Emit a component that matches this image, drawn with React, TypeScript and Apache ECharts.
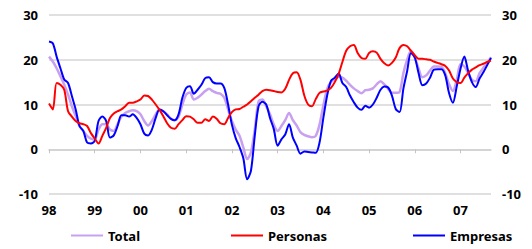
import React, { useEffect, useRef } from "react";
import * as echarts from "echarts";

const yearLabels = ["98", "99", "00", "01", "02", "03", "04", "05", "06", "07"];

// monthly, Jan 1998 .. Sep 2007
const total = [
  20.7, 19.6, 18.1, 16.3, 14.4, 12.2, 9.6, 7.4, 5.2, 4.1, 3.0, 2.4,
  2.2, 4.4, 5.6, 5.6, 4.4, 4.1, 5.6, 7.3, 8.1, 8.5, 8.7, 8.5,
  7.8, 6.3, 5.3, 6.3, 7.8, 8.9, 8.5, 7.8, 6.8, 6.5, 7.3, 10.0,
  12.2, 12.7, 11.1, 11.5, 12.2, 13.0, 13.5, 13.0, 12.6, 12.4, 11.5, 8.9,
  6.3, 4.4, 3.0, 0.4, -2.2, -0.7, 4.4, 10.7, 11.1, 9.6, 7.8, 5.5,
  4.1, 5.2, 6.5, 8.1, 6.5, 5.3, 3.8, 3.2, 2.9, 2.7, 3.0, 5.5,
  9.8, 13.5, 15.0, 15.6, 16.2, 16.0, 15.3, 14.4, 13.6, 13.0, 12.5, 13.2,
  13.3, 13.6, 14.5, 15.2, 14.5, 13.5, 12.6, 12.6, 12.8, 17.0, 20.0, 22.0,
  20.5, 18.0, 16.1, 16.5, 17.6, 18.5, 18.5, 18.4, 17.0, 14.5, 13.0, 15.5,
  19.0, 18.5, 17.0, 15.5, 15.2, 17.0, 18.2, 19.3, 20.6,
];

const personas = [
  10.2, 8.9, 14.8, 14.4, 13.3, 8.5, 7.3, 6.3, 5.8, 5.6, 5.2, 3.6,
  2.4, 1.3, 3.0, 4.8, 7.0, 8.0, 8.5, 8.9, 9.6, 10.4, 10.4, 10.7,
  11.1, 12.0, 11.9, 11.1, 10.0, 8.8, 7.4, 5.8, 4.8, 4.6, 5.6, 6.5,
  7.4, 7.3, 6.7, 5.9, 5.9, 6.7, 6.3, 7.3, 6.8, 5.8, 5.6, 7.0,
  8.3, 8.9, 9.0, 9.5, 10.0, 10.7, 11.5, 12.2, 13.0, 13.3, 13.2, 13.0,
  12.8, 12.7, 13.5, 15.5, 17.0, 17.2, 15.5, 12.0, 10.0, 9.6, 11.2, 12.6,
  12.9, 13.1, 13.7, 15.0, 16.8, 19.5, 22.0, 23.0, 23.3, 21.5, 20.4, 20.2,
  21.5, 21.9, 21.6, 20.2, 19.2, 18.7, 19.3, 20.5, 22.6, 23.3, 23.0, 22.0,
  21.0, 20.2, 20.2, 20.1, 20.0, 19.6, 19.3, 19.0, 18.6, 17.6, 15.8, 15.0,
  14.8, 16.0, 17.0, 17.8, 18.3, 18.8, 19.1, 19.5, 19.8,
];

const empresas = [
  24.1, 23.7, 20.7, 18.1, 15.6, 14.8, 11.9, 8.9, 5.2, 4.1, 1.5, 1.3,
  1.9, 6.3, 7.3, 6.3, 2.6, 3.1, 5.2, 7.6, 7.6, 7.3, 7.8, 7.0,
  5.6, 3.5, 3.1, 4.4, 7.0, 8.9, 8.5, 7.6, 6.8, 6.5, 7.8, 11.5,
  13.7, 14.1, 12.4, 13.3, 14.4, 15.9, 16.1, 15.0, 14.7, 14.7, 13.7, 10.0,
  5.5, 2.5, 0.5, -2.0, -6.7, -4.8, 3.0, 9.6, 10.6, 10.0, 7.0, 4.5,
  0.8, 2.2, 3.3, 5.6, 2.6, 0.8, -1.0, -0.5, -0.6, -0.7, -0.8, 1.5,
  7.0, 12.0, 15.3, 16.0, 16.9, 14.8, 13.9, 12.0, 10.5, 9.3, 8.8, 9.7,
  9.3, 10.0, 11.5, 13.3, 14.0, 13.8, 12.0, 9.0, 8.3, 13.5, 17.5, 21.5,
  20.5, 17.0, 14.3, 14.7, 16.0, 17.8, 17.9, 17.9, 16.5, 12.5, 10.4, 14.0,
  18.0, 20.7, 17.5, 15.0, 13.9, 15.8, 17.2, 18.8, 20.4,
];

const months = total.map((_, i) => String(i));

const FONT = "Noto Sans";

export default function App() {
  const ref = useRef<HTMLDivElement>(null);
  useEffect(() => {
    if (!ref.current) return;
    const chart = echarts.init(ref.current, null, { renderer: "svg" });
    const labelStyle = {
      color: "#000",
      fontFamily: FONT,
      fontWeight: "bold" as const,
      fontSize: 13,
    };
    const legendBase = {
      top: 229,
      itemWidth: 32,
      itemHeight: 2,
      itemGap: 4,
      icon: "rect",
      padding: 0,
      textStyle: { ...labelStyle },
      selectedMode: false,
    };
    const yearTick = (i: number) => i % 12 === 0;
    chart.setOption({
      animation: false,
      grid: { left: 49, right: 41, top: 15, bottom: 55, outerBoundsMode: "none", containLabel: false },
      legend: [
        { ...legendBase, left: 71, data: ["Total"] },
        { ...legendBase, left: 231, data: ["Personas"] },
        { ...legendBase, left: 413, data: ["Empresas"] },
      ],
      xAxis: [
        {
          type: "category",
          data: months,
          boundaryGap: false,
          position: "bottom",
          axisLine: { show: false, onZero: false },
          axisTick: { show: false },
          axisLabel: {
            ...labelStyle,
            interval: yearTick,
            formatter: (_v: string, i: number) => yearLabels[Math.floor(i / 12)] ?? "",
            margin: 9,
          },
          splitLine: { show: false },
        },
        {
          type: "category",
          data: months,
          boundaryGap: false,
          position: "bottom",
          axisLine: { show: true, onZero: true, lineStyle: { color: "#d0d0d0", width: 1.5 } },
          axisTick: {
            interval: yearTick,
            length: 4,
            lineStyle: { color: "#c4c4c4" },
          },
          axisLabel: { show: false },
          splitLine: { show: false },
        },
      ],
      yAxis: [
        {
          type: "value",
          min: -10,
          max: 30,
          interval: 10,
          axisLine: { show: false },
          axisTick: { show: false },
          axisLabel: { ...labelStyle, margin: 11 },
          splitLine: { lineStyle: { color: "#d6d6d6", width: 1.5 } },
        },
        {
          type: "value",
          min: -10,
          max: 30,
          interval: 10,
          position: "right",
          axisLine: { show: false },
          axisTick: { show: false },
          axisLabel: { ...labelStyle, margin: 11 },
          splitLine: { show: false },
        },
      ],
      series: [
        {
          name: "Total",
          type: "line",
          data: total,
          symbol: "none",
          smooth: 0.3,
          z: 2,
          lineStyle: { color: "#c8a0f0", width: 2.5 },
          itemStyle: { color: "#c8a0f0" },
        },
        {
          name: "Personas",
          type: "line",
          data: personas,
          symbol: "none",
          smooth: 0.3,
          z: 4,
          lineStyle: { color: "#ff0000", width: 2 },
          itemStyle: { color: "#ff0000" },
        },
        {
          name: "Empresas",
          type: "line",
          data: empresas,
          symbol: "none",
          smooth: 0.3,
          z: 3,
          lineStyle: { color: "#0000ff", width: 2 },
          itemStyle: { color: "#0000ff" },
        },
      ],
    });
    return () => chart.dispose();
  }, []);
  return <div ref={ref} style={{ width: 532, height: 249, position: "absolute", left: 0, top: 0 }} />;
}
